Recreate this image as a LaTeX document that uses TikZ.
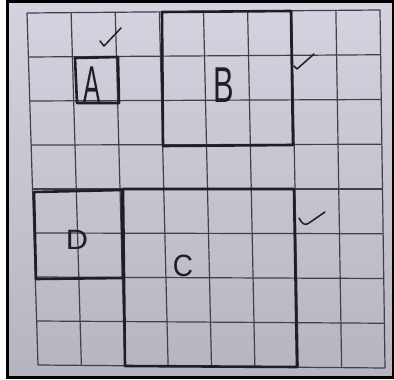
\documentclass[tikz,border=0pt]{standalone}
\usepackage{fontspec}
\setmainfont{Liberation Sans}
\usetikzlibrary{calc}
\definecolor{pen}{HTML}{1E1E26}
\definecolor{papertop}{HTML}{D3D4E0}
\definecolor{paperbot}{HTML}{B6B4BF}
\begin{document}
\begin{tikzpicture}[x=1pt,y=-1pt,
  gridline/.style={draw=pen!85, line width=1.2pt},
  boxline/.style={draw=pen, line width=2.6pt, line join=round},
  tick/.style={draw=pen, line width=1.5pt, line cap=round, line join=round},
  letter/.style={text=pen, inner sep=0pt, font=\fontsize{28}{28}\selectfont}]
\useasboundingbox (0,0) rectangle (394,380);
\fill[white] (0,0) rectangle (394,380);
\shade[top color=papertop, bottom color=paperbot] (7,1.5) rectangle (394,377);
\draw[black, line width=3pt] (7,1.5) rectangle (393.5,377.5);
% grid corners
\coordinate (TL) at (27,13);
\coordinate (TR) at (380,10);
\coordinate (BL) at (38,365);
\coordinate (BR) at (385,368);
\foreach \i in {0,...,8} {
  \draw[gridline] ($(TL)!\i/8!(TR)$) -- ($(BL)!\i/8!(BR)$);
  \draw[gridline] ($(TL)!\i/8!(BL)$) -- ($(TR)!\i/8!(BR)$);
}
% boxes
\draw[boxline] (75,58) -- (118,57) -- (119,103) -- (77,103) -- cycle;
\draw[boxline] (162,12) -- (291,11) -- (293,145) -- (163,146) -- cycle;
\draw[boxline] (34,192) -- (122,190) -- (123,278) -- (36,279) -- cycle;
\draw[boxline] (123,189) -- (294,189) -- (297,367) -- (125,366) -- cycle;
% labels
\node[letter] (A) at (92,85) {\scalebox{0.92}[1.85]{A}};
\node[letter] (B) at (224,85) {\scalebox{1.1}[1.8]{B}};
\node[letter] (C) at (183,266) {\scalebox{1.0}[1.1]{C}};
\node[letter] (D) at (77,240) {\scalebox{1.1}[1.0]{D}};
% check marks
\draw[tick] (100,41) .. controls (102,44) .. (104,46) -- (121,28);
\draw[tick] (294,66) .. controls (296,68) .. (297,69) -- (314,54);
\draw[tick] (299,218) .. controls (302,224) and (305,226) .. (309,223) -- (325,212);
\end{tikzpicture}
\end{document}
